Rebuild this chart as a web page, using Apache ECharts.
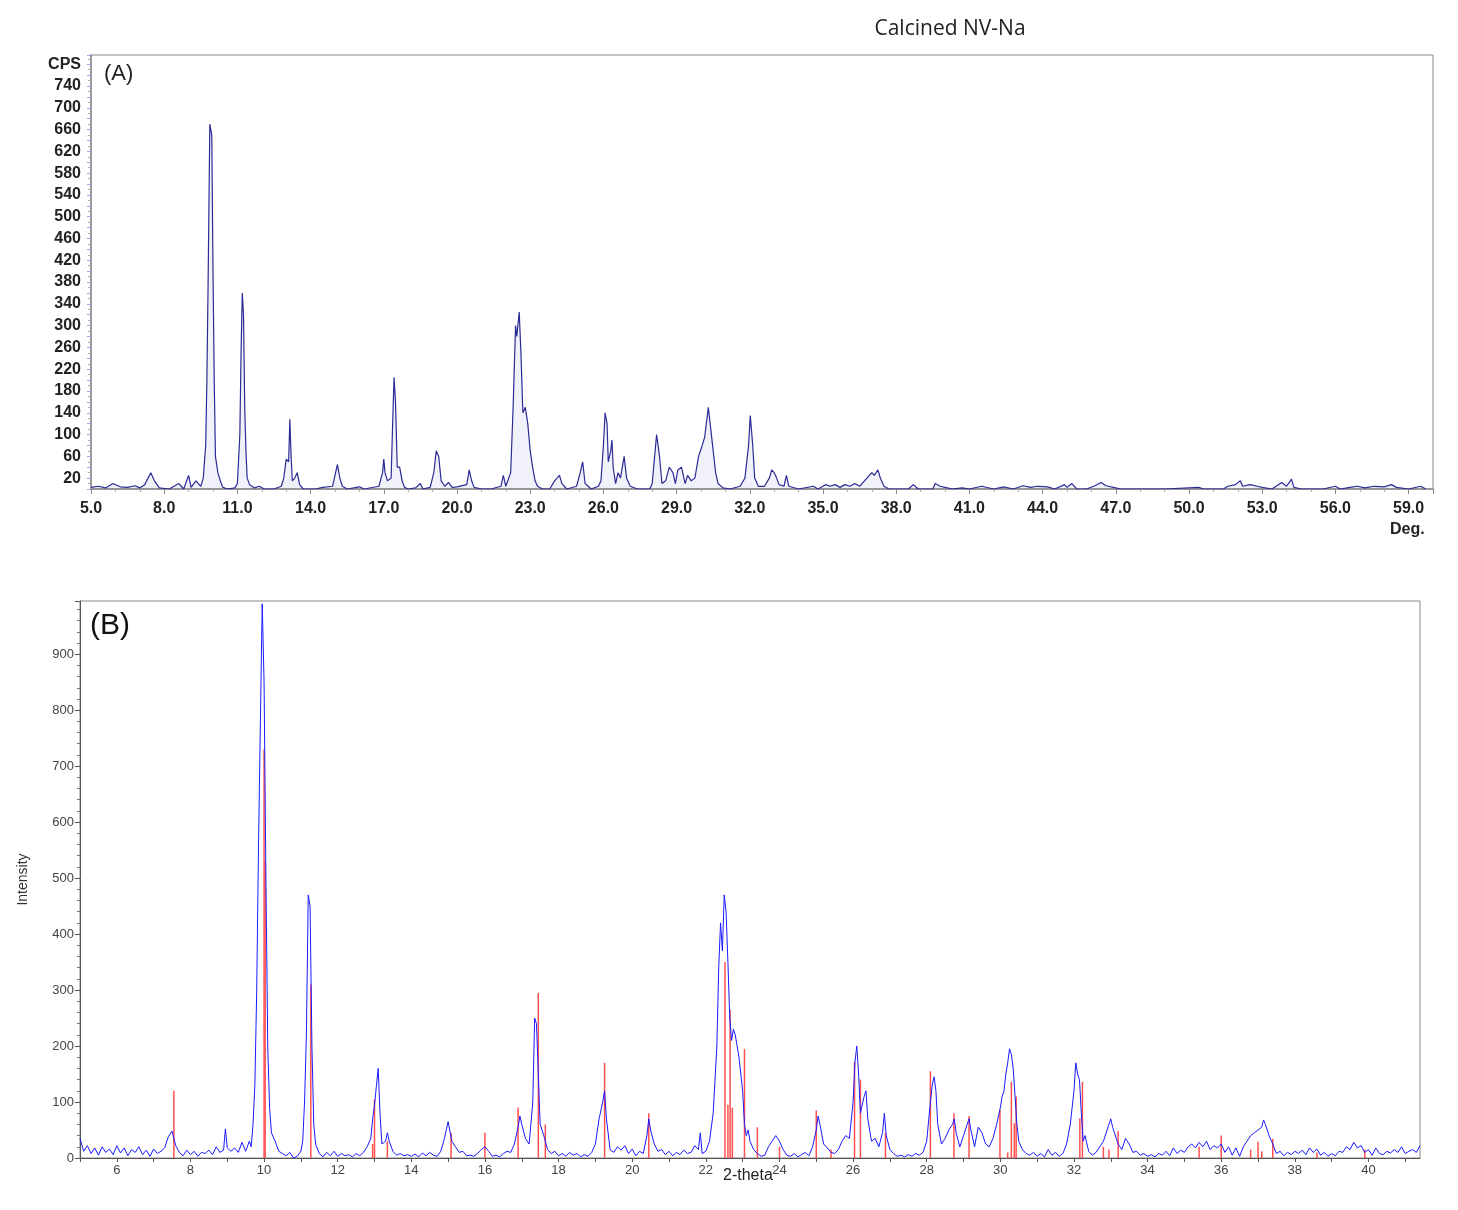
<!DOCTYPE html>
<html>
<head>
<meta charset="utf-8">
<script src="https://cdn.jsdelivr.net/npm/echarts@6/dist/echarts.min.js"></script>
<style>html,body{margin:0;background:#fff}#c{width:1458px;height:1210px}</style>
</head>
<body>
<div id="c"></div>
<script>
// panel A: measured pattern (2theta, CPS)
var scanA = [
[5.0,3],[5.3,5],[5.6,2],[5.9,10],[6.2,4],[6.5,3],[6.8,6],[7.0,2],[7.2,8],[7.45,30],[7.6,15],[7.8,2],[8.2,0],[8.6,10],[8.8,0],[9.0,25],[9.1,3],[9.3,15],[9.5,5],[9.6,20],[9.7,80],[9.75,200],[9.8,380],[9.87,670],[9.95,650],[10.0,400],[10.05,200],[10.1,60],[10.2,30],[10.3,15],[10.4,3],[10.6,0],[10.9,2],[11.0,10],[11.1,100],[11.15,250],[11.2,360],[11.25,320],[11.3,150],[11.35,70],[11.4,20],[11.5,8],[11.7,2],[11.9,5],[12.1,0],[12.5,0],[12.8,5],[12.9,20],[13.0,55],[13.1,50],[13.15,128],[13.2,60],[13.25,15],[13.35,20],[13.45,30],[13.55,8],[13.7,0],[14.2,0],[14.5,3],[14.9,5],[15.0,25],[15.1,45],[15.2,20],[15.3,5],[15.5,0],[16.0,4],[16.2,0],[16.8,5],[16.95,30],[17.0,55],[17.05,30],[17.15,15],[17.3,20],[17.35,100],[17.42,205],[17.48,160],[17.55,40],[17.65,40],[17.75,15],[17.85,3],[18.0,0],[18.3,2],[18.5,10],[18.6,0],[18.9,3],[19.05,30],[19.15,70],[19.25,60],[19.35,15],[19.5,5],[19.65,12],[19.8,3],[20.0,4],[20.4,8],[20.5,35],[20.6,15],[20.7,3],[21.0,0],[21.4,0],[21.8,5],[21.9,25],[22.0,5],[22.2,30],[22.3,150],[22.4,300],[22.45,280],[22.55,325],[22.62,250],[22.7,140],[22.8,150],[22.9,120],[23.0,70],[23.1,40],[23.2,15],[23.3,5],[23.5,0],[23.8,0],[24.0,15],[24.1,20],[24.2,25],[24.3,10],[24.5,0],[24.9,5],[25.05,30],[25.15,50],[25.25,10],[25.5,0],[25.8,5],[25.9,15],[26.0,80],[26.07,140],[26.15,120],[26.2,50],[26.3,70],[26.35,90],[26.4,40],[26.5,10],[26.6,30],[26.7,20],[26.85,60],[26.95,20],[27.1,5],[27.4,0],[27.9,0],[28.0,10],[28.1,60],[28.18,100],[28.3,60],[28.4,10],[28.55,15],[28.7,40],[28.85,30],[28.95,10],[29.05,35],[29.2,40],[29.35,10],[29.45,25],[29.6,15],[29.75,20],[29.9,60],[30.05,80],[30.15,95],[30.3,150],[30.4,110],[30.5,70],[30.6,30],[30.7,10],[30.9,2],[31.2,0],[31.6,5],[31.8,20],[31.95,80],[32.02,135],[32.12,80],[32.2,20],[32.35,5],[32.6,5],[32.8,20],[32.9,35],[33.0,30],[33.1,20],[33.2,8],[33.4,5],[33.5,25],[33.6,5],[34.0,0],[34.6,5],[34.8,0],[35.1,8],[35.3,5],[35.5,8],[35.7,3],[35.9,8],[36.1,5],[36.3,10],[36.5,5],[36.7,15],[36.9,25],[37.0,30],[37.1,25],[37.25,35],[37.35,20],[37.5,5],[37.7,0],[38.5,0],[38.7,8],[38.9,0],[39.5,0],[39.6,10],[39.8,5],[40.0,3],[40.3,0],[40.7,2],[41.0,0],[41.5,5],[42.0,0],[42.4,4],[42.8,0],[43.2,6],[43.5,3],[43.8,5],[44.2,4],[44.5,0],[44.9,8],[45.0,3],[45.2,10],[45.4,0],[45.8,0],[46.1,5],[46.4,12],[46.6,6],[46.9,3],[47.2,0],[48.0,0],[49.0,0],[50.4,3],[50.6,0],[51.4,0],[51.6,5],[51.9,8],[52.1,15],[52.2,5],[52.5,8],[52.8,5],[53.0,3],[53.4,0],[53.8,12],[54.0,5],[54.2,18],[54.3,3],[54.6,0],[55.5,0],[56.0,5],[56.2,0],[56.6,3],[56.9,5],[57.2,2],[57.6,5],[58.0,4],[58.3,8],[58.5,3],[59.0,0],[59.5,5],[59.7,0]
];

// panel B: measured pattern (2theta, intensity)
var scanB = [
[5.0,35],[5.1,12],[5.2,22],[5.3,8],[5.4,18],[5.5,5],[5.6,20],[5.7,10],[5.8,16],[5.9,6],[6.0,22],[6.1,9],[6.2,18],[6.3,4],[6.4,15],[6.5,10],[6.6,20],[6.7,6],[6.8,14],[6.9,3],[7.0,16],[7.1,8],[7.2,12],[7.3,18],[7.4,38],[7.5,48],[7.55,50],[7.6,22],[7.7,10],[7.8,4],[7.9,14],[8.0,6],[8.1,12],[8.2,3],[8.3,10],[8.4,8],[8.5,14],[8.6,6],[8.7,20],[8.8,10],[8.9,14],[8.95,52],[9.0,18],[9.1,12],[9.2,18],[9.3,10],[9.4,28],[9.5,12],[9.6,30],[9.65,20],[9.7,60],[9.75,130],[9.8,300],[9.85,560],[9.9,780],[9.95,990],[10.0,850],[10.05,500],[10.1,200],[10.15,90],[10.2,45],[10.3,30],[10.4,12],[10.5,8],[10.6,4],[10.7,10],[10.8,0],[10.9,3],[11.0,12],[11.05,30],[11.1,100],[11.15,220],[11.2,470],[11.25,450],[11.3,200],[11.35,60],[11.4,25],[11.5,8],[11.6,2],[11.7,10],[11.8,4],[11.9,12],[12.0,3],[12.1,8],[12.2,4],[12.3,6],[12.4,2],[12.5,8],[12.6,4],[12.7,10],[12.8,20],[12.9,35],[12.95,70],[13.0,95],[13.05,92],[13.1,160],[13.15,80],[13.2,25],[13.3,30],[13.35,45],[13.4,30],[13.5,12],[13.6,5],[13.7,8],[13.8,4],[13.9,6],[14.0,3],[14.1,7],[14.2,2],[14.3,9],[14.4,4],[14.5,10],[14.6,5],[14.7,3],[14.8,12],[14.9,35],[15.0,65],[15.05,62],[15.1,30],[15.2,20],[15.3,10],[15.4,12],[15.5,4],[15.6,5],[15.7,3],[15.8,8],[15.9,15],[16.0,20],[16.1,12],[16.2,3],[16.3,5],[16.4,2],[16.5,8],[16.6,12],[16.7,10],[16.8,25],[16.9,55],[16.95,75],[17.0,60],[17.1,35],[17.2,25],[17.3,100],[17.35,250],[17.4,240],[17.45,150],[17.5,60],[17.6,40],[17.7,15],[17.8,8],[17.9,12],[18.0,4],[18.1,8],[18.2,3],[18.3,10],[18.4,5],[18.5,8],[18.6,2],[18.7,6],[18.8,3],[18.9,10],[19.0,25],[19.1,70],[19.2,100],[19.25,120],[19.3,70],[19.4,15],[19.5,10],[19.6,20],[19.7,14],[19.8,22],[19.9,8],[20.0,16],[20.1,4],[20.2,12],[20.3,8],[20.4,40],[20.45,70],[20.5,50],[20.6,25],[20.7,12],[20.8,15],[20.9,6],[21.0,12],[21.1,4],[21.2,10],[21.3,6],[21.4,14],[21.5,8],[21.6,10],[21.7,22],[21.8,15],[21.85,45],[21.9,8],[22.0,12],[22.1,30],[22.2,80],[22.3,200],[22.35,340],[22.4,420],[22.45,370],[22.5,470],[22.55,440],[22.6,350],[22.65,250],[22.7,210],[22.75,230],[22.8,220],[22.85,200],[22.9,180],[23.0,120],[23.05,60],[23.1,40],[23.15,50],[23.2,30],[23.3,15],[23.4,8],[23.5,3],[23.6,5],[23.7,20],[23.8,30],[23.9,40],[24.0,30],[24.1,15],[24.2,5],[24.3,3],[24.4,8],[24.5,2],[24.6,6],[24.7,10],[24.8,4],[24.9,20],[25.0,50],[25.05,75],[25.1,60],[25.2,25],[25.3,18],[25.4,10],[25.5,8],[25.6,15],[25.7,30],[25.8,40],[25.9,35],[26.0,100],[26.05,170],[26.1,200],[26.15,150],[26.2,80],[26.3,110],[26.35,120],[26.4,70],[26.5,30],[26.6,35],[26.7,20],[26.8,45],[26.85,80],[26.9,40],[27.0,15],[27.1,8],[27.2,3],[27.3,5],[27.4,2],[27.5,6],[27.6,3],[27.7,8],[27.8,5],[27.9,10],[28.0,30],[28.1,100],[28.15,130],[28.2,145],[28.25,120],[28.3,60],[28.4,25],[28.5,35],[28.6,50],[28.7,60],[28.75,70],[28.8,45],[28.9,20],[29.0,40],[29.1,60],[29.15,70],[29.2,50],[29.3,20],[29.4,55],[29.5,45],[29.6,25],[29.7,20],[29.8,35],[29.9,60],[30.0,90],[30.05,110],[30.1,120],[30.15,150],[30.2,170],[30.25,195],[30.3,185],[30.35,160],[30.4,110],[30.45,60],[30.5,30],[30.6,15],[30.7,8],[30.8,5],[30.9,10],[31.0,3],[31.1,8],[31.2,2],[31.3,15],[31.4,5],[31.5,10],[31.6,3],[31.7,8],[31.8,25],[31.9,60],[32.0,120],[32.05,170],[32.1,150],[32.15,140],[32.2,80],[32.25,30],[32.3,40],[32.4,12],[32.5,5],[32.6,10],[32.7,20],[32.8,30],[32.9,50],[32.95,60],[33.0,70],[33.05,55],[33.1,45],[33.2,25],[33.3,15],[33.4,35],[33.5,25],[33.6,10],[33.7,12],[33.8,5],[33.9,8],[34.0,3],[34.1,6],[34.2,2],[34.3,8],[34.4,5],[34.5,12],[34.6,4],[34.7,18],[34.8,8],[34.9,14],[35.0,10],[35.1,20],[35.2,25],[35.3,18],[35.4,28],[35.5,20],[35.6,30],[35.7,15],[35.8,22],[35.9,18],[36.0,25],[36.1,10],[36.2,20],[36.3,5],[36.4,18],[36.5,3],[36.6,20],[36.7,30],[36.8,40],[36.9,45],[37.0,50],[37.1,55],[37.15,68],[37.2,60],[37.3,40],[37.4,25],[37.5,8],[37.6,12],[37.7,4],[37.8,10],[37.9,6],[38.0,12],[38.1,8],[38.2,14],[38.3,6],[38.4,18],[38.5,10],[38.6,16],[38.7,5],[38.8,10],[38.9,3],[39.0,8],[39.1,4],[39.2,12],[39.3,10],[39.4,20],[39.5,15],[39.6,28],[39.7,18],[39.8,22],[39.9,10],[40.0,15],[40.1,5],[40.2,18],[40.3,8],[40.4,6],[40.5,12],[40.6,9],[40.7,15],[40.8,10],[40.9,20],[41.0,8],[41.1,12],[41.2,15],[41.3,10],[41.4,22]
];

// panel B: reference pattern sticks (2theta, intensity)
var sticksB = [
[7.55,120],[10.0,730],[10.03,530],[11.27,310],[12.95,25],[13.0,105],[13.35,30],[15.08,45],[16.0,45],[16.9,90],[17.45,295],[17.64,60],[19.25,170],[20.45,80],
[22.52,350],[22.6,95],[22.66,265],[22.72,90],[23.05,195],[23.4,55],[24.0,20],[25.0,85],[25.4,15],[26.04,172],[26.2,140],[26.88,45],[28.1,155],[28.74,80],[29.15,75],
[29.99,86],[30.2,10],[30.3,136],[30.38,62],[30.43,110],[32.16,71],[32.23,136],[32.8,20],[32.95,15],[33.2,48],[35.4,20],[36.0,40],[36.8,15],[37.0,29],[37.1,12],[37.4,34],[38.6,10],[39.9,15]
];

var chart = echarts.init(document.getElementById('c'));
var font = 'Arial, "Liberation Sans", sans-serif';

var option = {
    animation: false,
    backgroundColor: '#fff',
    title: {
        text: 'Calcined NV-Na',
        left: 945, top: 14, textAlign: 'center',
        textStyle: { fontFamily: '"Open Sans", sans-serif', fontSize: 21, fontWeight: 'normal', color: '#222' }
    },
    grid: [
        { left: 91, right: 25, top: 55, height: 434, show: true, borderColor: '#888', borderWidth: 1 },
        { left: 80, right: 38, top: 601, height: 557, show: true, borderColor: '#888', borderWidth: 1 }
    ],
    xAxis: [{
        gridIndex: 0, type: 'value', min: 5, max: 60, interval: 3,
        splitLine: { show: false },
        axisLine: { lineStyle: { color: '#999', width: 2 } },
        axisTick: { length: 5, lineStyle: { color: '#888' } },
        minorTick: { show: true, splitNumber: 3, length: 3, lineStyle: { color: '#aaa' } },
        axisLabel: { showMaxLabel: false, formatter: function (v) { return v.toFixed(1); },
            fontFamily: font, fontWeight: 'bold', fontSize: 16, color: '#222', margin: 12 }
    }, {
        gridIndex: 1, type: 'value', min: 5, max: 41.4, interval: 1,
        splitLine: { show: false },
        axisLine: { lineStyle: { color: '#555' } },
        axisTick: { length: 4, lineStyle: { color: '#555' } },
        axisLabel: { showMaxLabel: false, formatter: function (v) { return (v % 2 === 0) ? v : ''; },
            fontFamily: font, fontSize: 13, color: '#444', margin: 6 }
    }],
    yAxis: [{
        gridIndex: 0, type: 'value', min: 0, max: 797, interval: 20,
        splitLine: { show: false },
        axisLine: { lineStyle: { color: '#999', width: 2 } },
        axisTick: { length: 4, lineStyle: { color: '#9ad' } },
        minorTick: { show: true, splitNumber: 2, length: 3, lineStyle: { color: '#aaa' } },
        axisLabel: { showMinLabel: false, showMaxLabel: false, fontFamily: font, fontWeight: 'bold', fontSize: 16, color: '#222', margin: 10,
            formatter: function (v) {
                if (v === 780) return 'CPS';
                return ((v - 20) % 40 === 0) ? v : '';
            } }
    }, {
        gridIndex: 1, type: 'value', min: 0, max: 995, interval: 100,
        name: 'Intensity', nameLocation: 'middle', nameGap: 50,
        nameTextStyle: { fontFamily: font, fontSize: 14, color: '#333' },
        splitLine: { show: false },
        axisLine: { lineStyle: { color: '#555' } },
        axisTick: { length: 5, lineStyle: { color: '#555' } },
        minorTick: { show: true, splitNumber: 5, length: 3, lineStyle: { color: '#777' } },
        axisLabel: { showMaxLabel: false, fontFamily: font, fontSize: 13, color: '#444', margin: 6 }
    }],
    series: [{
        type: 'line', xAxisIndex: 0, yAxisIndex: 0, data: scanA,
        showSymbol: false, lineStyle: { color: '#2b2b95', width: 1.2 },
        areaStyle: { color: 'rgba(120,120,210,0.15)' }
    }, {
        type: 'bar', xAxisIndex: 1, yAxisIndex: 1, data: sticksB,
        barWidth: 1.5, itemStyle: { color: '#ff5050' }, z: 2
    }, {
        type: 'line', xAxisIndex: 1, yAxisIndex: 1, data: scanB,
        showSymbol: false, lineStyle: { color: '#1a1aff', width: 1 }, z: 3
    }],
    graphic: [
        { type: 'text', left: 104, top: 63, style: { text: '(A)', font: '22px Arial, sans-serif', fill: '#222' } },
        { type: 'text', left: 1390, top: 522, style: { text: 'Deg.', font: 'bold 16px Arial, sans-serif', fill: '#222' } },
        { type: 'text', left: 90, top: 611, style: { text: '(B)', font: '30px Arial, sans-serif', fill: '#111' } },
        { type: 'text', left: 723, top: 1168, style: { text: '2-theta', font: '16px Arial, sans-serif', fill: '#222' } }
    ]
};
chart.setOption(option);
</script>
</body>
</html>
